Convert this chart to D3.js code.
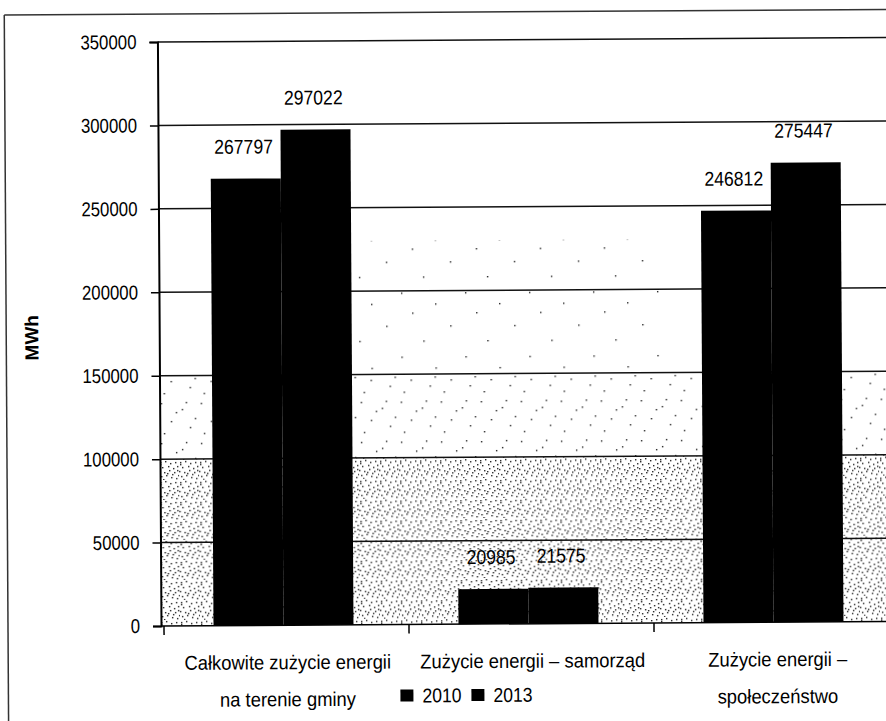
<!DOCTYPE html>
<html>
<head>
<meta charset="utf-8">
<script src="https://cdn.jsdelivr.net/npm/d3@7"></script>
<style>
  html, body { margin: 0; padding: 0; background: #fff; }
  svg { display: block; font-family: "Liberation Sans", Arial, sans-serif; }
</style>
</head>
<body>
<svg id="chart" width="886" height="721"></svg>
<script>
// data
const categories = ['total', 'municipality', 'society'];
const categoryLines = [
  ['Całkowite zużycie energii', 'na terenie gminy'],
  ['Zużycie energii – samorząd'],
  ['Zużycie energii –', 'społeczeństwo']
];
const years = ['2010', '2013'];
const values2010 = [267797, 20985, 246812];
const values2013 = [297022, 21575, 275447];
const yTicks = [0, 50000, 100000, 150000, 200000, 250000, 300000, 350000];

// stipple texture of the scan (decoration only)
const denseDots = [[1,2],[6,1],[11,3],[16,2],[3,7],[9,6],[14,8],[18,6],[0,11],[5,12],
  [10,10],[15,12],[19,15],[2,16],[7,15],[12,17],[17,18],[4,19],[8,13],[13,14],[1,4],[18,10]];
const sparseDots = [[2,3],[23,9],[12,21],[31,27],[5,33],[27,2],[17,12],[36,18]];
const rareDots = [[4,7],[41,22],[19,38],[53,49],[30,58]];

const svg = d3.select('#chart');
const defs = svg.append('defs');

function makePattern(id, dots, size) {
  const p = defs.append('pattern')
    .attr('id', id)
    .attr('patternUnits', 'userSpaceOnUse')
    .attr('width', size).attr('height', size);
  p.selectAll('rect').data(dots).enter().append('rect')
    .attr('x', d => d[0]).attr('y', d => d[1])
    .attr('width', 1.4).attr('height', 1.4)
    .attr('fill', '#222');
}
makePattern('dense', denseDots, 20);
makePattern('sparse', sparseDots, 40);
makePattern('rare', rareDots, 64);

// the scanned font is a condensed sans; squeeze the glyphs
function narrow(sel, k = 0.84) {
  sel.each(function () {
    const w = this.getComputedTextLength();
    d3.select(this).attr('textLength', w * k).attr('lengthAdjust', 'spacingAndGlyphs');
  });
}

// whole scan is a little tilted
const root = svg.append('g').attr('transform', 'rotate(-0.35, 161, 626)');

const x0 = 161;
const step = 245;
const x = d3.scaleBand()
  .domain(categories)
  .range([x0, x0 + step * categories.length])
  .paddingInner(0).paddingOuter(0);

const xSub = d3.scaleBand()
  .domain(years)
  .range([0, x.bandwidth()])
  .paddingInner(0).paddingOuter(0.75);

const y = d3.scaleLinear()
  .domain([0, 350000])
  .range([626, 42]);

const right = 900;

// outer frame of the scanned figure
root.append('line')
  .attr('x1', 8).attr('x2', right).attr('y1', 14).attr('y2', 14)
  .attr('stroke', '#333').attr('stroke-width', 1.5);
root.append('line')
  .attr('x1', 8).attr('x2', 8).attr('y1', 14).attr('y2', 730)
  .attr('stroke', '#333').attr('stroke-width', 1.5);

// stipple background
root.append('rect')
  .attr('x', x0).attr('y', y(100000))
  .attr('width', right - x0).attr('height', y(0) - y(100000))
  .attr('fill', 'url(#dense)');
root.append('rect')
  .attr('x', x0).attr('y', y(150000))
  .attr('width', right - x0).attr('height', y(100000) - y(150000))
  .attr('fill', 'url(#sparse)');
root.append('rect')
  .attr('x', x(categories[1]) - 50).attr('y', y(230000))
  .attr('width', x.bandwidth() + 60).attr('height', y(150000) - y(230000))
  .attr('fill', 'url(#rare)');

// gridlines
root.append('g')
  .selectAll('line')
  .data(yTicks.filter(d => d > 0))
  .enter().append('line')
  .attr('x1', x0).attr('x2', right)
  .attr('y1', d => y(d)).attr('y2', d => y(d))
  .attr('stroke', '#111').attr('stroke-width', 1.5);

// bars
const rows = categories.map((c, i) => ({ cat: c, vals: [values2010[i], values2013[i]] }));
const groups = root.selectAll('.grp')
  .data(rows)
  .enter().append('g')
  .attr('class', 'grp')
  .attr('transform', d => `translate(${x(d.cat)},0)`);

const valData = d => years.map((yr, j) => ({ yr, v: d.vals[j] }));
groups.selectAll('rect')
  .data(valData)
  .enter().append('rect')
  .attr('x', d => xSub(d.yr))
  .attr('y', d => y(d.v))
  .attr('width', xSub.bandwidth())
  .attr('height', d => y(0) - y(d.v))
  .attr('fill', '#000');

groups.selectAll('text.val')
  .data(valData)
  .enter().append('text')
  .attr('class', 'val')
  .attr('x', d => xSub(d.yr) + xSub.bandwidth() / 2 - 2)
  .attr('y', d => y(d.v) - 25)
  .attr('text-anchor', 'middle')
  .attr('font-size', 20)
  .attr('fill', '#000')
  .text(d => d.v)
  .call(narrow, 0.88);

// y axis
const yAxis = root.append('g')
  .attr('transform', `translate(${x0},0)`)
  .call(d3.axisLeft(y).tickValues(yTicks).tickFormat(d3.format('d')).tickSize(8).tickPadding(13));
yAxis.select('.domain').attr('stroke', '#000').attr('stroke-width', 2);
yAxis.selectAll('.tick line').attr('stroke', '#000').attr('stroke-width', 1.5);
yAxis.selectAll('.tick text')
  .attr('font-size', 20)
  .attr('font-family', '"Liberation Sans", Arial, sans-serif')
  .attr('fill', '#000')
  .call(narrow, 0.84);

// x axis: ticks at category boundaries
root.append('line')
  .attr('x1', x0).attr('x2', right).attr('y1', y(0)).attr('y2', y(0))
  .attr('stroke', '#000').attr('stroke-width', 1.5);
root.append('g')
  .selectAll('line')
  .data(categories)
  .enter().append('line')
  .attr('x1', d => x(d) + 3).attr('x2', d => x(d) + 3)
  .attr('y1', y(0)).attr('y2', y(0) + 9)
  .attr('stroke', '#000').attr('stroke-width', 1.5);

// category labels, one text per line
categories.forEach((c, i) => {
  const cx = x(c) + x.bandwidth() / 2 + 4;
  root.selectAll(null)
    .data(categoryLines[i])
    .enter().append('text')
    .attr('x', cx)
    .attr('y', (d, j) => 670 + j * 37)
    .attr('text-anchor', 'middle')
    .attr('font-size', 20)
    .attr('fill', '#000')
    .text(d => d)
    .call(narrow, 0.92);
});

// legend
const legend = root.append('g').attr('transform', 'translate(400,697)');
const legX = [0, 71];
years.forEach((yr, i) => {
  legend.append('rect')
    .attr('x', legX[i]).attr('y', -6)
    .attr('width', 13).attr('height', 12)
    .attr('fill', '#000');
  legend.append('text')
    .attr('x', legX[i] + 22).attr('y', 7)
    .attr('font-size', 20)
    .attr('fill', '#000')
    .text(yr)
    .call(narrow, 0.88);
});

// y axis title
root.append('text')
  .attr('transform', 'translate(40,337) rotate(-90)')
  .attr('text-anchor', 'middle')
  .attr('font-size', 19)
  .attr('font-weight', 'bold')
  .attr('fill', '#000')
  .text('MWh');
</script>
</body>
</html>
